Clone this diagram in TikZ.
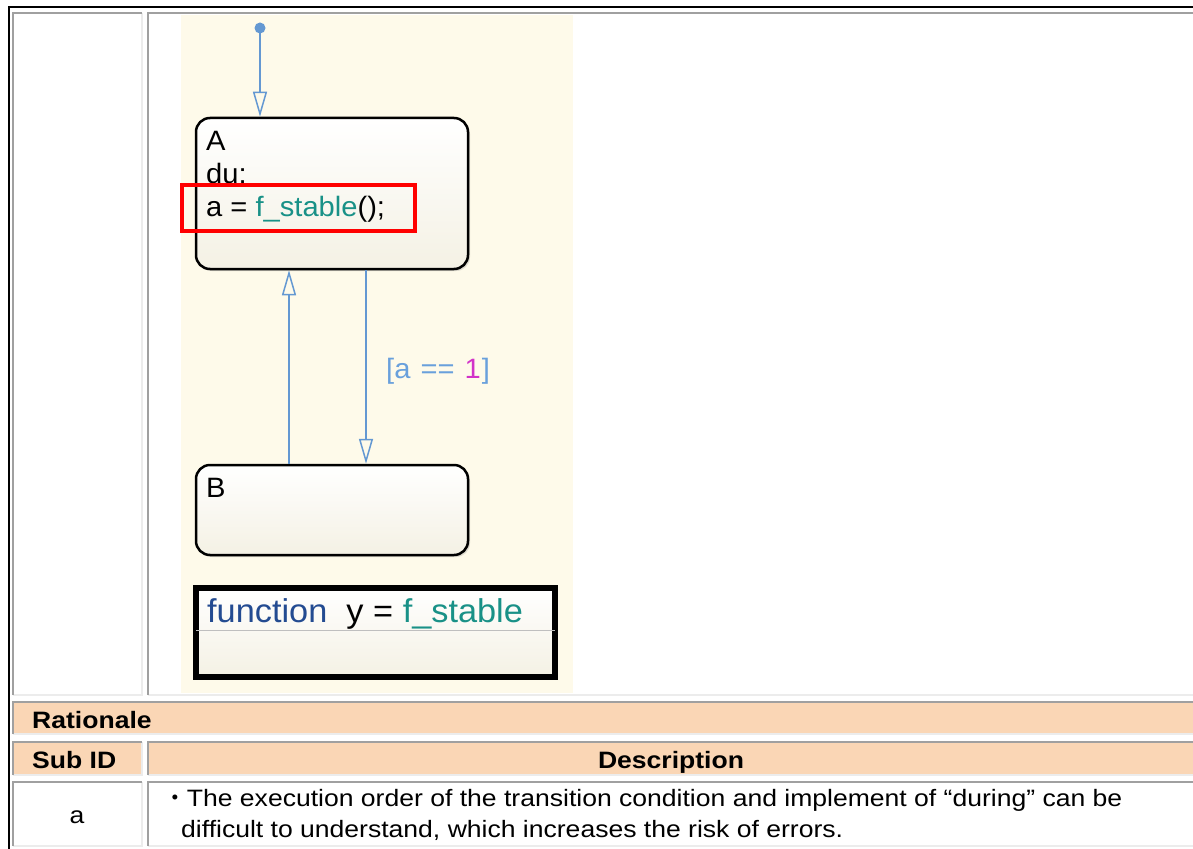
\documentclass[tikz,border=0pt]{standalone}
\usepackage{fontspec}
\setmainfont{Liberation Sans}[FakeStretch=1.12]
\newfontfamily\chartfont{Liberation Sans}[FakeStretch=1.04]
\newfontfamily\cjkfont{Noto Sans CJK JP}
\usetikzlibrary{arrows.meta,shadows}
\definecolor{chartbg}{RGB}{254,250,234}
\definecolor{transblue}{RGB}{100,152,210}
\definecolor{lblblue}{RGB}{105,160,220}
\definecolor{magentaone}{RGB}{210,50,200}
\definecolor{tealfn}{RGB}{25,145,135}
\definecolor{fnblue}{RGB}{35,75,145}
\definecolor{statebot}{RGB}{244,241,228}
\definecolor{peach}{RGB}{250,214,181}
\definecolor{celldark}{RGB}{160,160,160}
\definecolor{celllight}{RGB}{236,236,236}
\definecolor{redbox}{RGB}{255,0,0}
\newcommand\tablecell[5]{%
  \fill[#5] (#1,#2) rectangle (#3,#4);
  \draw[celllight,line width=2pt] (#1,#4) -- (#3,#4) -- (#3,#2);
  \draw[celldark,line width=2pt] (#1,#4) -- (#1,#2) -- (#3,#2);}
\begin{document}
\begin{tikzpicture}[x=1pt,y=-1pt,
  statebox/.style={draw=black,line width=2.5pt,rounded corners=14pt,
    top color=white,bottom color=statebot,inner sep=0pt,
    drop shadow={opacity=0.25,shadow xshift=2pt,shadow yshift=-2pt}},
  fnbox/.style={draw=black,line width=6pt,top color=white,bottom color=statebot,inner sep=0pt,
    drop shadow={opacity=0.3,shadow xshift=2pt,shadow yshift=-2pt}},
  trans/.style={draw=transblue,line width=1.5pt},
  tip/.style={-{Triangle[open,length=25pt,width=14pt,line width=1.5pt]}},
  charttext/.style={anchor=base west,inner sep=0pt,font=\fontsize{28}{30}\chartfont},
  tabtext/.style={inner sep=0pt,font=\fontsize{23.7}{28}\selectfont},
]
\useasboundingbox (0,0) rectangle (1193,848);
\fill[white] (0,0) rectangle (1193,848);
% outer border
\draw[black,line width=2pt] (9,849) -- (9,7.5) -- (1194,7.5);
% row 1 cells
\tablecell{13}{13}{142}{695}{white}
\tablecell{148}{13}{1195}{695}{white}
% chart background
\fill[chartbg] (181,15) rectangle (573,693);
% rationale row
\tablecell{13}{702}{1195}{734}{peach}
% header row
\tablecell{13}{742}{142}{775}{peach}
\tablecell{148}{742}{1195}{775}{peach}
% data row
\tablecell{13}{782}{142}{846}{white}
\tablecell{148}{782}{1195}{846}{white}

% states
\node[statebox,minimum width=272pt,minimum height=151pt] (A) at (332,193.5) {};
\node[statebox,minimum width=272pt,minimum height=90pt] (B) at (332,510) {};
\node[fnbox,minimum width=359pt,minimum height=89pt] (F) at (375.5,632) {};
\coordinate (sepy) at (0,630);
\draw[black!25,line width=1pt] ([xshift=3pt]F.west |- sepy) -- ([xshift=-3pt]F.east |- sepy);

% state texts
\node[charttext] (Aname) at (206,150) {A};
\node[charttext] (Adu) at (206,183) {du:};
\node[charttext] (Aact) at (206,216) {a = \textcolor{tealfn}{f\_stable}();};
\node[charttext] (Bname) at (206,497) {B};
\node[charttext,font=\fontsize{33}{35}\chartfont] (Ftext) at (207,622)
  {\textcolor{fnblue}{function}\ \ y = \textcolor{tealfn}{f\_stable}};

% red highlight
\draw[redbox,line width=4pt] (182,185) rectangle (415,231);

% transitions
\coordinate (init) at (260,28);
\coordinate (upx) at (289,0);
\coordinate (dnx) at (366,0);
\fill[transblue] (init) circle (5.5pt);
\draw[trans,tip] (init) -- (A.north -| init);
\draw[trans,tip] (B.north -| upx) -- (A.south -| upx);
\draw[trans,tip] (A.south -| dnx) -- (B.north -| dnx);
\node[charttext,text=lblblue] (cond) at (386,378) {[a\hspace{2pt} == \hspace{2pt}\textcolor{magentaone}{1}\hspace{1pt}]};

% table texts
\node[tabtext,anchor=base west,font=\fontsize{23.7}{28}\bfseries] (rat) at (32,728) {Rationale};
\node[tabtext,anchor=base west,font=\fontsize{23.7}{28}\bfseries] (subid) at (32,768) {Sub ID};
\node[tabtext,anchor=base,font=\fontsize{23.7}{28}\bfseries] (desc) at (671,768) {Description};
\node[tabtext,anchor=base] (suba) at (77,823) {a};
\node[tabtext,anchor=base west] (line1) at (163,806) {{\cjkfont ・}The execution order of the transition condition and implement of “during” can be};
\node[tabtext,anchor=base west] (line2) at (181,837) {difficult to understand, which increases the risk of errors.};
\end{tikzpicture}
\end{document}
